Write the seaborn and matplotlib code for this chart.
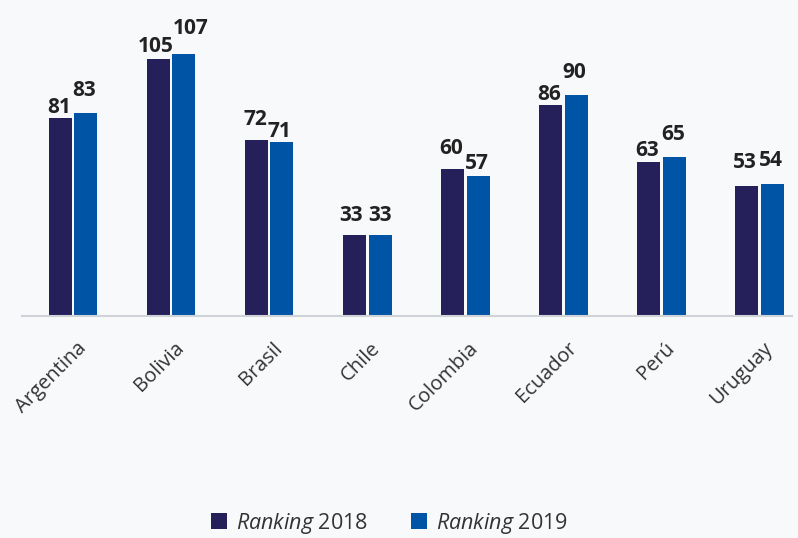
import matplotlib
matplotlib.use("Agg")
import matplotlib.pyplot as plt
import seaborn as sns
import pandas as pd
from matplotlib.patches import Patch
from matplotlib import transforms

paises = ["Argentina", "Bolivia", "Brasil", "Chile", "Colombia", "Ecuador", "Perú", "Uruguay"]
ranking_2018 = [81, 105, 72, 33, 60, 86, 63, 53]
ranking_2019 = [83, 107, 71, 33, 57, 90, 65, 54]
series = ["2018", "2019"]
colores = ["#251F5A", "#0054A6"]

# label offsets (pixels) to mimic the staggered labels of the reference
gap_2018 = [6, 8, 16, 15, 16, 6, 7, 19]
gap_2019 = [18, 21, 6, 15, 8, 19, 18, 19]
dx_2018 = [-1.5, -2.5, -1, -3.5, -1.5, -1.5, -1.5, -2]
dx_2019 = [-1.5, 6.5, -2, 0, -1.5, -1.5, -1.5, -1]

df = pd.DataFrame({
    "pais": paises * 2,
    "valor": ranking_2018 + ranking_2019,
    "serie": [series[0]] * len(paises) + [series[1]] * len(paises),
})

sns.set_theme(style="white")
plt.rcParams["font.family"] = ["Open Sans", "DejaVu Sans"]
plt.rcParams["mathtext.fontset"] = "custom"
plt.rcParams["mathtext.it"] = "Open Sans:italic"
plt.rcParams["mathtext.rm"] = "Open Sans"

bg = "#F8F9FB"
fig = plt.figure(figsize=(7.98, 5.38), dpi=100, facecolor=bg)
ax = fig.add_axes([22 / 798, (538 - 316) / 538, (792 - 22) / 798, (316 - 8) / 538])
ax.set_facecolor(bg)

sns.barplot(data=df, x="pais", y="valor", hue="serie", palette=colores,
            width=0.52, gap=0.1, ax=ax, legend=False, saturation=1, linewidth=0)

ax.set_xlim(-0.52, 7.33)
ax.set_ylim(0, (316 - 8) / 2.45)

px2pt = 72 / 100
for cont, gaps, dxs in zip(ax.containers, [gap_2018, gap_2019], [dx_2018, dx_2019]):
    for bar, g, dx in zip(cont, gaps, dxs):
        ax.annotate(f"{int(bar.get_height())}",
                    (bar.get_x() + bar.get_width() / 2, bar.get_height()),
                    xytext=(dx * px2pt, (g - 6) * px2pt), textcoords="offset points",
                    ha="center", va="bottom", fontsize=15, fontweight="bold",
                    color="#222222")

for s in ["top", "right", "left"]:
    ax.spines[s].set_visible(False)
ax.spines["bottom"].set_color("#CFD2D6")
ax.spines["bottom"].set_linewidth(1.5)
ax.set_yticks([])
ax.set_xlabel("")
ax.set_ylabel("")
ax.tick_params(axis="x", length=0, pad=16)
offset = transforms.ScaledTranslation(3 / 100, 0, fig.dpi_scale_trans)
for lbl in ax.get_xticklabels():
    lbl.set_rotation(45)
    lbl.set_ha("right")
    lbl.set_va("top")
    lbl.set_rotation_mode("anchor")
    lbl.set_fontsize(14.5)
    lbl.set_color("#333333")
    lbl.set_transform(lbl.get_transform() + offset)

handles = [Patch(facecolor=c, edgecolor="none") for c in colores]
labels = [r"$\it{Ranking}$ " + s for s in series]
fig.legend(handles, labels, loc="lower center", bbox_to_anchor=(389.5 / 798, -0.032), ncol=2,
           frameon=False, fontsize=15.5, handlelength=0.75, handleheight=0.75,
           handletextpad=0.4, columnspacing=2.0, labelcolor="#333333")

fig.savefig("out.png", dpi=100, facecolor=bg)
